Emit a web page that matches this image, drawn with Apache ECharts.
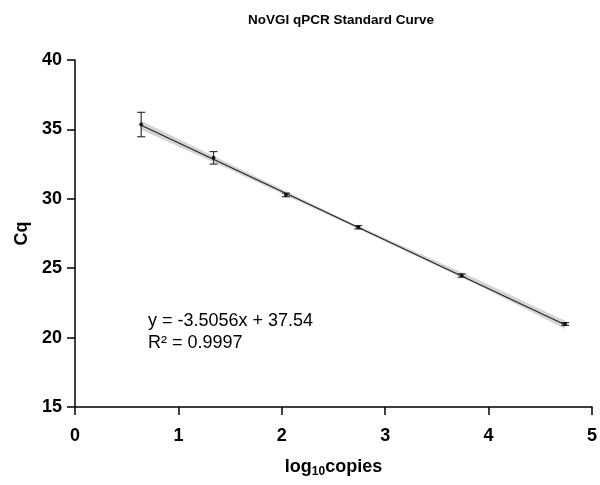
<!DOCTYPE html>
<html><head><meta charset="utf-8">
<script src="https://cdn.jsdelivr.net/npm/echarts@6/dist/echarts.min.js"></script>
<style>html,body{margin:0;padding:0;background:#fff}#c{width:600px;height:485px}</style>
</head><body><div id="c"></div>
<script>
var logCopies = [0.64, 1.34, 2.04, 2.74, 3.74, 4.74];
var cqMean = [35.35, 32.95, 30.28, 27.95, 24.47, 20.98];
var cqSD = [0.88, 0.45, 0.13, 0.12, 0.12, 0.1];
var fitX = [0.64, 4.74];
var fitY = [35.30, 20.92];
var bandX = [0.64, 1.5, 2.7, 3.9, 4.74];
var bandLo = [34.98, 32.10, 27.97, 23.77, 20.62];
var bandHi = [35.62, 32.50, 28.17, 24.17, 21.22];
var xTicks = [0, 1, 2, 3, 4, 5];
var yTicks = [15, 20, 25, 30, 35, 40];
var eqLines = ['y = -3.5056x + 37.54', 'R² = 0.9997'];

var F = 'Liberation Sans, Arial, sans-serif';
var chart = echarts.init(document.getElementById('c'), null, {renderer: 'canvas'});
var pts = logCopies.map(function (x, i) { return [x, cqMean[i], cqSD[i]]; });
var bandData = bandX.map(function (x, i) { return [x, bandLo[i], bandHi[i]]; });

chart.setOption({
  animation: false,
  title: {text: 'NoVGI qPCR Standard Curve', left: 336, top: 8, textAlign: 'center',
    textStyle: {fontFamily: F, fontSize: 13.5, fontWeight: 'bold', color: '#000'}},
  grid: {left: 75, right: 6, top: 60, bottom: 78, containLabel: false},
  xAxis: {type: 'value', min: 0, max: 5, interval: 1,
    name: '{a|log}{s|10}{a|copies}', nameLocation: 'middle', nameGap: 50,
    nameTextStyle: {rich: {
      a: {fontFamily: F, fontSize: 18, fontWeight: 'bold', color: '#000'},
      s: {fontFamily: F, fontSize: 12, fontWeight: 'bold', color: '#000', verticalAlign: 'bottom', padding: [9, 0, 0, 0]}}},
    axisLine: {lineStyle: {color: '#000', width: 1.5}},
    axisTick: {length: 8, lineStyle: {color: '#000', width: 1.5}},
    axisLabel: {fontFamily: F, fontSize: 18, fontWeight: 'bold', color: '#000', margin: 20},
    splitLine: {show: false}},
  yAxis: {type: 'value', min: 15, max: 40, interval: 5,
    name: 'Cq', nameLocation: 'middle', nameGap: 44,
    nameTextStyle: {fontFamily: F, fontSize: 18, fontWeight: 'bold', color: '#000'},
    axisLine: {show: true, lineStyle: {color: '#000', width: 1.5}},
    axisTick: {show: true, length: 8, lineStyle: {color: '#000', width: 1.5}},
    axisLabel: {fontFamily: F, fontSize: 18, fontWeight: 'bold', color: '#000', margin: 13},
    splitLine: {show: false}},
  series: [
    {type: 'custom', data: bandData, encode: {x: 0, y: [1, 2]}, z: 1,
      renderItem: function (params, api) {
        if (params.dataIndex !== 0) return null;
        var up = [], lo = [];
        for (var i = 0; i < bandData.length; i++) {
          up.push(api.coord([bandData[i][0], bandData[i][2]]));
          lo.unshift(api.coord([bandData[i][0], bandData[i][1]]));
        }
        return {type: 'polygon', shape: {points: up.concat(lo)},
          style: {fill: 'rgba(160,160,160,0.45)', stroke: null}};
      }},
    {type: 'line', data: fitX.map(function (x, i) { return [x, fitY[i]]; }), symbol: 'none', z: 2,
      lineStyle: {color: '#222', width: 1.2}},
    {type: 'custom', data: pts, encode: {x: 0, y: 1}, z: 3,
      renderItem: function (params, api) {
        var x = api.value(0), y = api.value(1), s = api.value(2);
        var top = api.coord([x, y + s]), bot = api.coord([x, y - s]);
        var w = 4;
        var st = {stroke: '#333', lineWidth: 1.2};
        return {type: 'group', children: [
          {type: 'line', shape: {x1: top[0], y1: top[1], x2: bot[0], y2: bot[1]}, style: st},
          {type: 'line', shape: {x1: top[0] - w, y1: top[1], x2: top[0] + w, y2: top[1]}, style: st},
          {type: 'line', shape: {x1: bot[0] - w, y1: bot[1], x2: bot[0] + w, y2: bot[1]}, style: st}
        ]};
      }},
    {type: 'scatter', data: pts.map(function (p) { return [p[0], p[1]]; }), symbol: 'circle', symbolSize: 4, z: 4,
      itemStyle: {color: '#000'}}
  ],
  graphic: [{type: 'text', left: 148, top: 310,
    style: {text: eqLines.join('\n'), font: '18px ' + F, fill: '#000', lineHeight: 22}}]
});
</script></body></html>
